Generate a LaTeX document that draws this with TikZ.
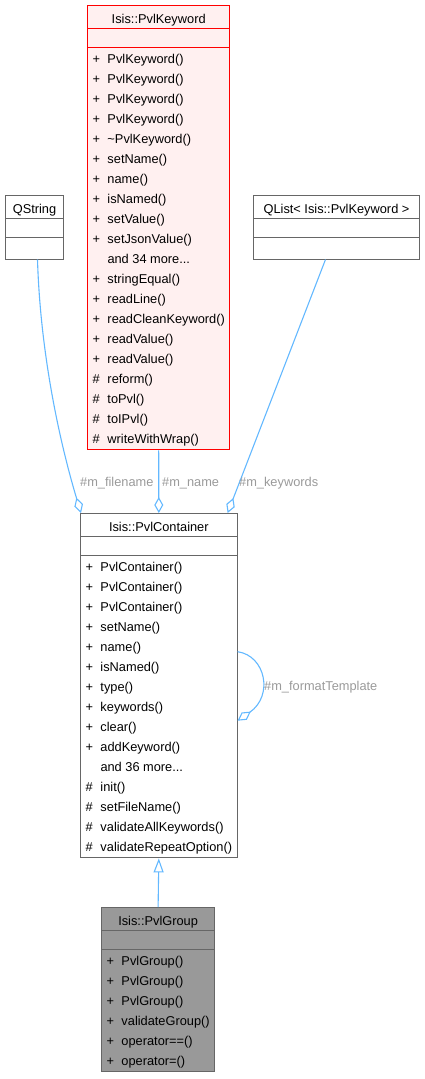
\documentclass[tikz,border=0pt]{standalone}
\usepackage{fontspec}
\setmainfont{Liberation Sans}
\usetikzlibrary{arrows.meta,shapes.multipart,calc}
\definecolor{EdgeBlue}{HTML}{63B8FF}
\definecolor{LabelGrey}{HTML}{9A9A9A}
\definecolor{BoxGrey}{HTML}{666666}
\definecolor{GroupFill}{HTML}{999999}
\definecolor{KeyRed}{HTML}{FF0000}
\definecolor{KeyFill}{HTML}{FFF0F0}
\newcommand{\clsname}[1]{\rule[-5pt]{0pt}{22pt}#1}
\newcommand{\noattr}{\rule{0pt}{18pt}}
\newcommand{\nomethods}{\rule{0pt}{20.5pt}}
\newcommand{\pub}{\makebox[15pt][l]{+}}
\newcommand{\prot}{\makebox[15pt][l]{\#}}
\newcommand{\etc}{\makebox[15pt][l]{}}
\newcommand{\members}[1]{\begin{tabular}{@{}l@{}}\rule{0pt}{15.4pt}#1\end{tabular}}
\tikzset{
  classbox/.style={
    rectangle split, rectangle split parts=3, rectangle split part align={center,left,left},
    draw=BoxGrey, fill=white, line width=1pt, inner xsep=5pt, inner ysep=0pt,
    font=\fontsize{12.8}{20}\selectfont, anchor=north west
  },
  keywordbox/.style={classbox, draw=KeyRed, fill=KeyFill},
  groupbox/.style={classbox, fill=GroupFill},
  usearrow/.style={-{Diamond[open,length=16pt,width=9pt]}, EdgeBlue, line width=1.1pt},
  inheritarrow/.style={-{Triangle[open,length=14pt,width=10pt]}, EdgeBlue, line width=1.1pt},
  memberlabel/.style={font=\fontsize{12.8}{15}\selectfont, text=LabelGrey, anchor=west, inner sep=0pt},
}

\begin{document}
\begin{tikzpicture}[x=1pt,y=-1pt]
  \useasboundingbox (0,0) rectangle (425,1079);
  % classes
  \node[keywordbox, minimum width=142pt] (keyword) at (87,5) {\clsname{Isis::PvlKeyword}
    \nodepart{second}\noattr
    \nodepart{third}\members{\pub PvlKeyword()\\ \pub PvlKeyword()\\ \pub PvlKeyword()\\ \pub PvlKeyword()\\
      \pub \textasciitilde PvlKeyword()\\ \pub setName()\\ \pub name()\\ \pub isNamed()\\ \pub setValue()\\
      \pub setJsonValue()\\ \etc and 34 more...\\ \pub stringEqual()\\ \pub readLine()\\ \pub readCleanKeyword()\\
      \pub readValue()\\ \pub readValue()\\ \prot reform()\\ \prot toPvl()\\ \prot toIPvl()\\ \prot writeWithWrap()}};
  \node[classbox, minimum width=58pt] (qstring) at (5,195) {\clsname{QString}
    \nodepart{second}\noattr
    \nodepart{third}\nomethods};
  \node[classbox, minimum width=166pt] (qlist) at (253,195) {\clsname{QList< Isis::PvlKeyword >}
    \nodepart{second}\noattr
    \nodepart{third}\nomethods};
  \node[classbox, minimum width=156pt] (container) at (80,513) {\clsname{Isis::PvlContainer}
    \nodepart{second}\noattr
    \nodepart{third}\members{\pub PvlContainer()\\ \pub PvlContainer()\\ \pub PvlContainer()\\ \pub setName()\\
      \pub name()\\ \pub isNamed()\\ \pub type()\\ \pub keywords()\\ \pub clear()\\ \pub addKeyword()\\
      \etc and 36 more...\\ \prot init()\\ \prot setFileName()\\ \prot validateAllKeywords()\\ \prot validateRepeatOption()}};
  \node[groupbox, minimum width=112pt] (group) at (101,907) {\clsname{Isis::PvlGroup}
    \nodepart{second}\noattr
    \nodepart{third}\members{\pub PvlGroup()\\ \pub PvlGroup()\\ \pub PvlGroup()\\ \pub validateGroup()\\
      \pub operator==()\\ \pub operator=()}};
  % members
  \draw[usearrow] ([xshift=3pt]qstring.south) .. controls +(3,100) and +(-19,-63) .. ([xshift=1pt]container.north west);
  \draw[usearrow] (keyword.south) -- (container.north);
  \draw[usearrow] ([xshift=-11pt]qlist.south) -- ([xshift=-10pt]container.north east);
  \draw[usearrow] ([yshift=34pt]container.east) .. controls +(28,4) and +(36,-25) .. ([yshift=-35pt]container.east);
  \draw[inheritarrow] (group.north) -- (container.south);
  \node[memberlabel] (lblfile) at (80,483) {\#m\_filename};
  \node[memberlabel] (lblname) at (162,483) {\#m\_name};
  \node[memberlabel] (lblkeys) at (239,483) {\#m\_keywords};
  \node[memberlabel] (lblformat) at (264,687) {\#m\_formatTemplate};
\end{tikzpicture}
\end{document}
